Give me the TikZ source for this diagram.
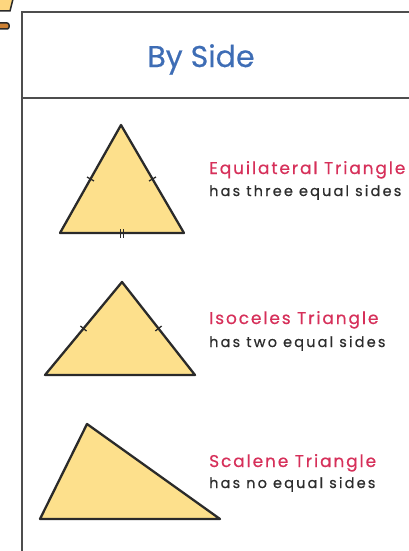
\documentclass[tikz,border=0pt]{standalone}
\usepackage{fontspec}
\setmainfont{Poppins}
\usetikzlibrary{positioning, calc, decorations.markings}
\definecolor{tri}{HTML}{FDE08C}
\definecolor{edge}{HTML}{2A2A2A}
\definecolor{frame}{HTML}{4E4E4E}
\definecolor{rosered}{HTML}{D6305A}
\definecolor{titleblue}{HTML}{3E6DB5}
\definecolor{subgray}{HTML}{2C2C2C}
\tikzset{
  panel/.style={draw=frame, line width=2.8pt},
  trishape/.style={draw=edge, fill=tri, line width=2.3pt, line join=round},
  tickone/.style={postaction={decorate, decoration={markings,
    mark=at position 0.5 with {\draw[edge, line width=1.3pt] (0,-4) -- (0,4);}}}},
  ticktwo/.style={postaction={decorate, decoration={markings,
    mark=at position 0.5 with {\draw[edge, line width=1.2pt] (-1.7,-4.5) -- (-1.7,4.5) (1.7,-4.5) -- (1.7,4.5);}}}},
  trititle/.style={anchor=base west, inner sep=0pt, text=rosered, font=\fontsize{17}{19}\selectfont\addfontfeatures{LetterSpace=11, FakeBold=0.6}},
  trinote/.style={anchor=base west, inner sep=0pt, text=subgray, font=\fontsize{14.5}{17}\selectfont\addfontfeatures{LetterSpace=15, FakeBold=0.6}}
}

\begin{document}
\begin{tikzpicture}[x=1pt, y=-1pt]
\useasboundingbox (0,0) rectangle (409,551);
\clip (0,0) rectangle (409,551);

% corner icon
\filldraw[fill=tri!90!orange, draw=edge, line width=1.5pt] (-5,-5) -- (14,-5) -- (10,11) -- (-5,11) -- cycle;
\filldraw[fill=brown!80!orange, draw=edge, line width=1.5pt, rounded corners=2pt] (-5,23) rectangle (9,29);

% frame
\draw[panel] (22,560) -- (22,12) -- (420,12);
\draw[panel] (22,98) -- (420,98);
\node[text=titleblue, font=\fontsize{30}{33}\selectfont\addfontfeatures{FakeBold=0.5}, anchor=base] (title) at (201,67) {By Side};

% equilateral
\coordinate (e1) at (60,233);
\coordinate (e2) at (121,125);
\coordinate (e3) at (184,233);
\filldraw[trishape] (e1) -- (e2) -- (e3) -- cycle;
\path[tickone] (e1) -- (e2);
\path[tickone] (e2) -- (e3);
\path[ticktwo] (e3) -- (e1);
\node[trititle] (eqname) at (209,174) {Equilateral Triangle};
\node[trinote] (eqnote) at (209,196) {has three equal sides};

% isosceles
\coordinate (i1) at (45,375);
\coordinate (i2) at (122,282);
\coordinate (i3) at (195,375);
\filldraw[trishape] (i1) -- (i2) -- (i3) -- cycle;
\path[tickone] (i1) -- (i2);
\path[tickone] (i2) -- (i3);
\node[trititle] (isname) at (209,324) {Isoceles Triangle};
\node[trinote] (isnote) at (209,347) {has two equal sides};

% scalene
\coordinate (s1) at (40,519);
\coordinate (s2) at (87,424);
\coordinate (s3) at (220,519);
\filldraw[trishape] (s1) -- (s2) -- (s3) -- cycle;
\node[trititle] (scname) at (209,467) {Scalene Triangle};
\node[trinote] (scnote) at (209,488) {has no equal sides};

\end{tikzpicture}
\end{document}
